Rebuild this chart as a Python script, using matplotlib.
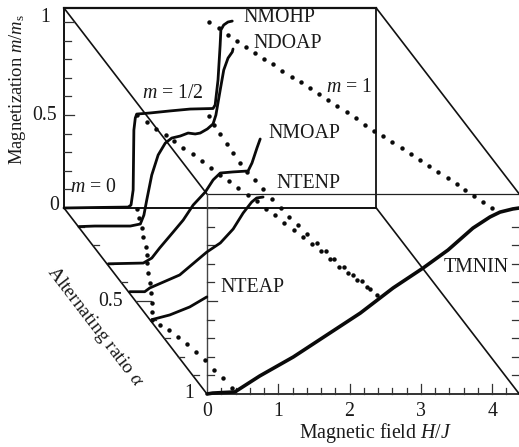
#!/usr/bin/env python3
"""
Magnetization curves m/ms against H/J and alternating ratio, oblique 3D box
"""

import numpy as np
import matplotlib
matplotlib.use('Agg')
import matplotlib.pyplot as plt

plt.rcParams['font.family'] = ['Liberation Serif', 'DejaVu Serif']
plt.rcParams['mathtext.fontset'] = 'custom'
plt.rcParams['mathtext.rm'] = 'Liberation Serif'
plt.rcParams['mathtext.it'] = 'Liberation Serif:italic'
plt.rcParams['mathtext.fallback'] = 'stix'

# Measured curves: alternating ratio, field H/J, magnetization m/ms
NMOHP_ALPHA = 0.0
NMOHP_H = [0, 0.50, 0.90, 0.94, 0.97, 0.98, 1.00, 1.02, 1.21, 1.49, 1.77, 2.09, 2.12, 2.16, 2.19, 2.20, 2.24, 2.30, 2.36]
NMOHP_M = [0, 0.003, 0.005, 0.016, 0.097, 0.419, 0.484, 0.505, 0.511, 0.522, 0.532, 0.535, 0.554, 0.688, 0.876, 0.957, 0.984, 1.0, 1.005]

NDOAP_ALPHA = 0.1
NDOAP_H = [0.01, 0.23, 0.73, 0.87, 0.92, 0.96, 1.03, 1.12, 1.22, 1.31, 1.43, 1.54, 1.64, 1.71, 1.81, 1.89, 1.93, 1.99, 2.04, 2.10, 2.16, 2.17]
NDOAP_M = [0, 0.003, 0.003, 0.014, 0.062, 0.143, 0.277, 0.385, 0.449, 0.476, 0.487, 0.503, 0.498, 0.503, 0.525, 0.552, 0.600, 0.734, 0.842, 0.906, 0.939, 0.955]

NMOAP_ALPHA = 0.3
NMOAP_H = [0.02, 0.51, 0.63, 0.74, 0.93, 1.07, 1.21, 1.38, 1.49, 1.59, 1.77, 1.98, 2.035, 2.105, 2.15]
NMOAP_M = [0, 0.004, 0.031, 0.085, 0.171, 0.235, 0.316, 0.386, 0.451, 0.488, 0.494, 0.499, 0.542, 0.623, 0.671]

NTENP_ALPHA = 0.45
NTENP_H = [0.02, 0.23, 0.30, 0.72, 1.10, 1.29, 1.47, 1.61, 1.73, 1.80, 1.89]
NTENP_M = [0, 0, 0.02, 0.09, 0.213, 0.262, 0.337, 0.423, 0.482, 0.504, 0.509]

NTEAP_ALPHA = 0.6
NTEAP_H = [0.03, 0.28, 0.56, 0.80]
NTEAP_M = [0, 0.025, 0.068, 0.122]

TMNIN_ALPHA = 1.0
TMNIN_H = [0, 0.08, 0.39, 0.74, 1.21, 1.68, 2.15, 2.61, 3.03, 3.38, 3.73, 3.97, 4.11, 4.29, 4.38]
TMNIN_M = [0, 0.005, 0.011, 0.097, 0.199, 0.317, 0.435, 0.57, 0.677, 0.774, 0.892, 0.952, 0.978, 0.995, 1.0]

# Dotted phase boundaries: (alpha, H) at fixed m
M1_ALPHA = [0, .032, .070, .102, .134, .167, .199, .226, .263, .296, .323, .355, .387, .419, .452, .484,
            .516, .554, .586, .613, .645, .677, .710, .742, .774, .806, .839, .871, .903, .935, .968, 1]
M1_H = [2.034, 2.109, 2.160, 2.222, 2.283, 2.344, 2.405, 2.478, 2.530, 2.605, 2.676, 2.738, 2.801, 2.863, 2.923, 2.999,
        3.060, 3.111, 3.173, 3.244, 3.307, 3.383, 3.443, 3.505, 3.567, 3.628, 3.703, 3.764, 3.813, 3.875, 3.936, 3.997]

HALF_LOW_ALPHA = [0, .038, .075, .108, .140, .177, .210, .247, .285, .320, .355, .392, .430, .462, .505, .538, .581,
                  .618, .656, .694, .731, .774, .817, .849, .887, .925, .968]
HALF_LOW_H = [1.024, 1.088, 1.140, 1.215, 1.262, 1.314, 1.388, 1.440, 1.489, 1.546, 1.602, 1.654, 1.718, 1.780, 1.820, 1.881, 1.920,
              1.986, 2.036, 2.087, 2.139, 2.178, 2.219, 2.280, 2.331, 2.394, 2.449]

HALF_HIGH_ALPHA = [.005, .054, .102, .156, .204, .258, .306, .349, .398, .452, .5, .548, .591, .640, .688, .731, .774,
                   .817, .860, .892, .935]
HALF_HIGH_H = [2.024, 1.996, 1.983, 1.973, 1.961, 1.951, 1.952, 1.979, 1.993, 2.011, 2.041, 2.056, 2.097, 2.125, 2.168, 2.209, 2.234,
               2.289, 2.328, 2.390, 2.417]

M0_ALPHA = [.005, .054, .108, .156, .210, .253, .296, .349, .403, .457, .511, .559, .602, .629, .656, .694, .731, .774,
            .817, .871, .914, .968]
M0_H = [1.014, .944, .878, .795, .729, .656, .571, .478, .398, .303, .209, .114, .027, .086, .157, .208, .259, .299,
        .339, .356, .397, .415]

# Box and ticks
H_MAX = 4.38
M_MAX = 1.075
H_TICKS = [0, 1, 2, 3, 4]
M_TICK_LABELS = ['0', '0.5', '1']
ALPHA_TICK_LABELS = ['0.5', '1']

# Oblique projection, figure pixels
X0, Y0 = 64.0, 394.0
SX, SY = 71.3, 186.0
DX, DY = 143.0, 186.0


def project(h, alpha, m):
    h, alpha, m = np.asarray(h, float), np.asarray(alpha, float), np.asarray(m, float)
    x = X0 + SX * h + DX * alpha
    y = Y0 - SY * m - DY * (1 - alpha)
    return x, y


def edge(ax, a, b, lw=1.2, color='#111111'):
    x, y = project([a[0], b[0]], [a[1], b[1]], [a[2], b[2]])
    ax.plot(x, y, color=color, lw=lw, solid_capstyle='projecting', zorder=2)


def tick(ax, h, alpha, m, length, direction=1, vertical=False, lw=0.9, color='#333333'):
    x, y = project(h, alpha, m)
    if vertical:
        ax.plot([x, x], [y, y - length], color=color, lw=lw, zorder=2)
    else:
        ax.plot([x, x + direction * length], [y, y], color=color, lw=lw, zorder=2)


def main():
    fig = plt.figure(figsize=(5.19, 4.47), dpi=100)
    ax = fig.add_axes([0, 0, 1, 1])
    ax.set_xlim(0, 519)
    ax.set_ylim(447, 0)
    ax.axis('off')

    # Back wall
    edge(ax, (0, 0, 0), (H_MAX, 0, 0), lw=1.4)
    edge(ax, (0, 0, M_MAX), (H_MAX, 0, M_MAX), lw=1.6)
    edge(ax, (0, 0, 0), (0, 0, M_MAX), lw=1.4)
    edge(ax, (H_MAX, 0, 0), (H_MAX, 0, M_MAX), lw=1.3)
    # Sides
    edge(ax, (0, 0, 0), (0, 1, 0), lw=1.2)
    edge(ax, (0, 0, M_MAX), (0, 1, M_MAX), lw=1.2)
    edge(ax, (H_MAX, 0, 0), (H_MAX, 1, 0), lw=1.2)
    edge(ax, (H_MAX, 0, M_MAX), (H_MAX, 1, M_MAX), lw=1.2)
    # Front frame, thinner
    edge(ax, (0, 1, M_MAX), (H_MAX, 1, M_MAX), lw=0.9, color='#222222')
    edge(ax, (0, 1, 0), (0, 1, M_MAX), lw=1.0, color='#444444')
    edge(ax, (0, 1, 0), (H_MAX, 1, 0), lw=1.2)

    # Ticks on the walls and floor
    for i in range(0, 11):
        m = i / 10
        major = i in (0, 5, 10)
        if i > 0:
            tick(ax, 0, 0, m, 10 if major else 7)
            tick(ax, 0, 1, m, 10 if major else 7)
            tick(ax, H_MAX, 1, m, 7, direction=-1)
        if 0 < i < 10:
            tick(ax, 0, m, 0, 15 if i == 5 else 6)
    for i in range(1, 22):
        h = i * 0.2
        tick(ax, h, 1, 0, 10 if i % 5 == 0 else 6, vertical=True)

    # Dotted boundaries under the curves
    dot_style = dict(ls='none', marker='o', ms=3.2, color='#0a0a0a', mew=0, zorder=3)
    ax.plot(*project(M1_H, M1_ALPHA, 1.0), **dot_style)
    ax.plot(*project(HALF_LOW_H, HALF_LOW_ALPHA, 0.5), **dot_style)
    ax.plot(*project(HALF_HIGH_H, HALF_HIGH_ALPHA, 0.5), **dot_style)
    ax.plot(*project(M0_H, M0_ALPHA, 0.0), **dot_style)

    # Solid curves
    curves = [
        (NMOHP_H, NMOHP_ALPHA, NMOHP_M, 2.0),
        (NDOAP_H, NDOAP_ALPHA, NDOAP_M, 2.0),
        (NMOAP_H, NMOAP_ALPHA, NMOAP_M, 2.0),
        (NTENP_H, NTENP_ALPHA, NTENP_M, 2.0),
        (NTEAP_H, NTEAP_ALPHA, NTEAP_M, 2.0),
        (TMNIN_H, TMNIN_ALPHA, TMNIN_M, 2.6),
    ]
    for h, alpha, m, lw in curves:
        x, y = project(h, alpha, m)
        ax.plot(x, y, color='#0a0a0a', lw=lw, solid_joinstyle='round', solid_capstyle='round', zorder=4)

    # Text
    tc = '#1a1a1a'
    text = dict(fontsize=14.3, color=tc, ha='center', va='center', zorder=5)
    for label, x, y in zip(M_TICK_LABELS, [59, 57, 50], [206, 115, 17]):
        ax.text(x, y, label, **{**text, 'ha': 'right'})
    for label, (x, y) in zip(ALPHA_TICK_LABELS, [(111, 302), (189, 393)]):
        ax.text(x, y, label, **text)
    for h in H_TICKS:
        ax.text(project(h, 1, 0)[0], 412, str(h), **text)

    ax.text(375, 433, 'Magnetic field $H/J$', **text)
    ax.text(18, 90, 'Magnetization $m/m_{\\mathrm{s}}$', rotation=90, **{**text, 'fontsize': 13.4})
    ax.text(95, 327, 'Alternating ratio $\\alpha$', rotation=-52.5, rotation_mode='anchor', **{**text, 'fontsize': 14})

    ax.text(279, 18, 'NMOHP', **text)
    ax.text(288, 43, 'NDOAP', **text)
    ax.text(304, 134, 'NMOAP', **text)
    ax.text(308, 183, 'NTENP', **text)
    ax.text(252, 287, 'NTEAP', **text)
    ax.text(476, 268, 'TMNIN', **text)
    ax.text(173, 94, '$m$ = 1/2', **text)
    ax.text(349, 87, '$m$ = 1', **text)
    ax.text(93, 188, '$m$ = 0', **text)

    fig.savefig('out.png', dpi=100)


if __name__ == "__main__":
    main()
